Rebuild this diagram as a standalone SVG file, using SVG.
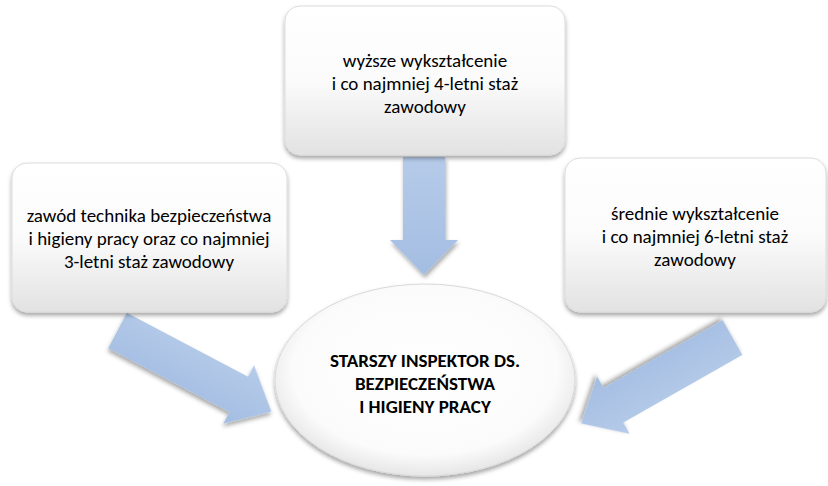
<svg xmlns="http://www.w3.org/2000/svg" width="828" height="486" viewBox="0 0 828 486">
  <style>
    .lbl { font-family: Carlito, Lato, "Liberation Sans", sans-serif; font-size: 19px; fill: #000; text-anchor: middle; }
    .bold { font-weight: bold; font-size: 19px; }
    .box { fill: url(#boxFill); stroke: #dcdcdc; stroke-width: 1; filter: url(#boxShadow); }
    .arrow { fill: url(#arrowFill); filter: url(#arrowShadow); }
  </style>
  <defs>
    <linearGradient id="boxFill" x1="0" y1="0" x2="0" y2="1">
      <stop offset="0" stop-color="#ffffff"/>
      <stop offset="0.5" stop-color="#fbfbfb"/>
      <stop offset="1" stop-color="#e2e2e2"/>
    </linearGradient>
    <radialGradient id="ellFill" cx="0.5" cy="0.45" r="0.55">
      <stop offset="0" stop-color="#ffffff"/>
      <stop offset="0.8" stop-color="#fbfbfb"/>
      <stop offset="1" stop-color="#e6e6e6"/>
    </radialGradient>
    <linearGradient id="arrowFill" x1="0" y1="0" x2="0" y2="1">
      <stop offset="0" stop-color="#b6cbe9"/>
      <stop offset="1" stop-color="#a3bde2"/>
    </linearGradient>
    <filter id="boxShadow" x="-10%" y="-10%" width="120%" height="130%">
      <feDropShadow dx="0" dy="3" stdDeviation="2" flood-color="#000" flood-opacity="0.35"/>
    </filter>
    <filter id="arrowShadow" x="-20%" y="-20%" width="140%" height="140%">
      <feDropShadow dx="1" dy="3" stdDeviation="2" flood-color="#000" flood-opacity="0.35"/>
    </filter>
    <path id="sideArrow" d="M0,-20 H137 V-33 L174,0 L137,33 V20 H0 Z"/>
  </defs>

  <rect width="828" height="486" fill="#ffffff"/>

  <!-- connectors: block arrows pointing at the central node -->
  <g id="connectors">
    <path class="arrow" d="M403,157 H445 V240 H458 L424,275 L390,240 H403 Z"/>
    <use class="arrow" href="#sideArrow" transform="translate(117.5,330.5) rotate(27.8)"/>
    <use class="arrow" href="#sideArrow" transform="translate(732.5,337.5) rotate(150.4)"/>
  </g>

  <g id="node-top">
    <rect class="box" x="285" y="6" width="280" height="149" rx="15"/>
    <text class="lbl" x="425" y="67">wyższe wykształcenie</text>
    <text class="lbl" x="425" y="90">i co najmniej 4-letni staż</text>
    <text class="lbl" x="425" y="113">zawodowy</text>
  </g>

  <g id="node-left">
    <rect class="box" x="12" y="163" width="275" height="149" rx="15"/>
    <text class="lbl" x="149" y="222">zawód technika bezpieczeństwa</text>
    <text class="lbl" x="149" y="245">i higieny pracy oraz co najmniej</text>
    <text class="lbl" x="149" y="268">3-letni staż zawodowy</text>
  </g>

  <g id="node-right">
    <rect class="box" x="565" y="158" width="261" height="154" rx="15"/>
    <text class="lbl" x="695" y="220">średnie wykształcenie</text>
    <text class="lbl" x="695" y="243">i co najmniej 6-letni staż</text>
    <text class="lbl" x="695" y="266">zawodowy</text>
  </g>

  <g id="node-center">
    <ellipse cx="425" cy="380" rx="150" ry="96" fill="url(#ellFill)" stroke="#d9d9d9" stroke-width="1" filter="url(#boxShadow)"/>
    <text class="lbl bold" x="425" y="367">STARSZY INSPEKTOR DS.</text>
    <text class="lbl bold" x="425" y="390">BEZPIECZEŃSTWA</text>
    <text class="lbl bold" x="425" y="413">I HIGIENY PRACY</text>
  </g>
</svg>
